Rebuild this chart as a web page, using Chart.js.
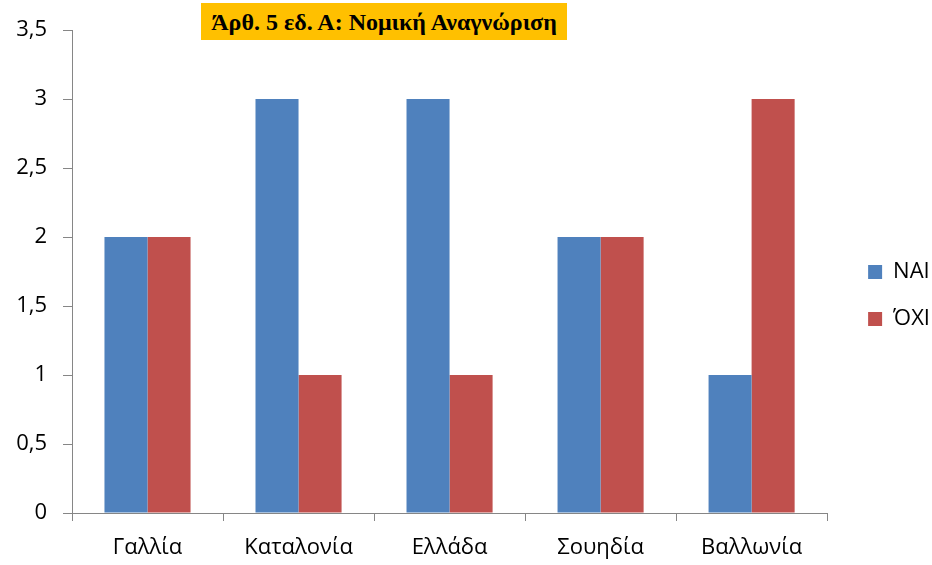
<!DOCTYPE html>
<html>
<head>
<meta charset="utf-8">
<script src="https://cdn.jsdelivr.net/npm/chart.js@4/dist/chart.umd.min.js"></script>
<style>
  html, body { margin:0; padding:0; background:#fff; }
  #wrap { position:relative; width:932px; height:565px; }
  #title { position:absolute; left:201px; top:3px; width:366px; height:37px; background:#FFC000;
    font:bold 24px "Liberation Serif", "DejaVu Serif", serif; color:#000; text-align:center; line-height:38px; z-index:2; white-space:nowrap; }
</style>
</head>
<body>
<div id="wrap">
  <canvas id="c" width="932" height="565"></canvas>
  <div id="title">Άρθ. 5 εδ. Α: Νομική Αναγνώριση</div>
</div>
<script>
const categories = ["Γαλλία", "Καταλονία", "Ελλάδα", "Σουηδία", "Βαλλωνία"];
const seriesNames = ["ΝΑΙ", "ΌΧΙ"];
const yesValues = [2, 3, 3, 2, 1];
const noValues = [2, 1, 1, 2, 3];

const axisColor = "#868686";
const font = { family: "'Open Sans', 'Liberation Sans', sans-serif", size: 22 };

const legendShift = {
  id: "legendShift",
  afterLayout(chart) { if (chart.legend) { chart.legend.left += 16; chart.legend.right += 16; } }
};

new Chart(document.getElementById("c"), {
  type: "bar",
  data: {
    labels: categories,
    datasets: [
      { label: seriesNames[0], data: yesValues, backgroundColor: "#4F81BD" },
      { label: seriesNames[1], data: noValues, backgroundColor: "#C0504D" }
    ]
  },
  plugins: [legendShift],
  options: {
    responsive: false,
    animation: false,
    layout: { padding: { top: 30, bottom: 4, left: 0, right: 8 } },
    datasets: { bar: { categoryPercentage: 0.57, barPercentage: 1.0 } },
    plugins: {
      legend: {
        position: "right",
        labels: { boxWidth: 14, boxHeight: 14, padding: 25, color: "#000", font: font }
      },
      tooltip: { enabled: false }
    },
    scales: {
      x: {
        offset: true,
        afterFit: (s) => { s.height = 48; },
        grid: { offset: true, drawOnChartArea: false, color: axisColor, tickLength: 8 },
        border: { color: axisColor, width: 1 },
        ticks: { color: "#000", font: font, padding: 14, maxRotation: 0 }
      },
      y: {
        min: 0, max: 3.5,
        afterFit: (s) => { s.width = 72; },
        grid: { drawOnChartArea: false, color: axisColor, tickLength: 9 },
        border: { color: axisColor, width: 1 },
        ticks: { stepSize: 0.5, color: "#000", font: font, padding: 16,
          callback: (v) => String(v).replace(".", ",") }
      }
    }
  }
});
</script>
</body>
</html>
